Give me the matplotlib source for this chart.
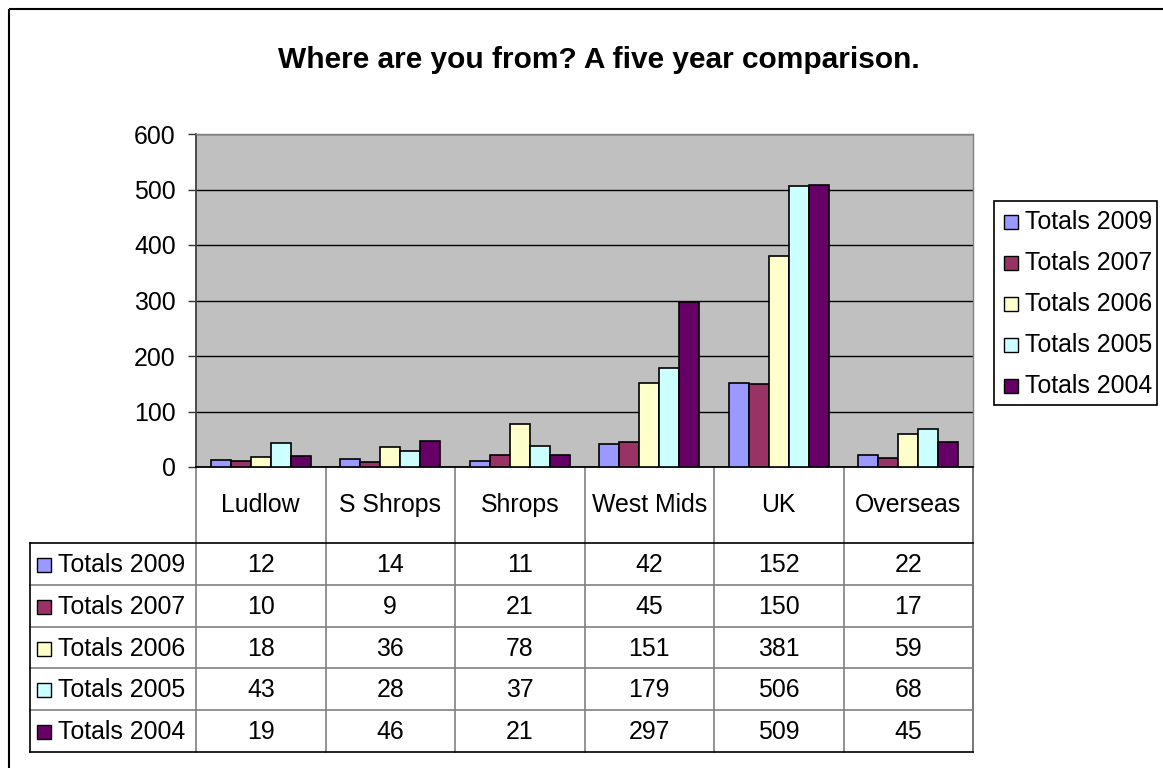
import matplotlib
matplotlib.use("Agg")
import matplotlib.pyplot as plt
from matplotlib.patches import Rectangle
import numpy as np

plt.rcParams['font.family'] = ['Liberation Sans', 'DejaVu Sans']

categories = ["Ludlow", "S Shrops", "Shrops", "West Mids", "UK", "Overseas"]
series_names = ["Totals 2009", "Totals 2007", "Totals 2006", "Totals 2005", "Totals 2004"]
totals_2009 = [12, 14, 11, 42, 152, 22]
totals_2007 = [10, 9, 21, 45, 150, 17]
totals_2006 = [18, 36, 78, 151, 381, 59]
totals_2005 = [43, 28, 37, 179, 506, 68]
totals_2004 = [19, 46, 21, 297, 509, 45]
series_values = [totals_2009, totals_2007, totals_2006, totals_2005, totals_2004]
colors = ["#9999FF", "#993366", "#FFFFCC", "#CCFFFF", "#660066"]
y_ticks = [0, 100, 200, 300, 400, 500, 600]
title = "Where are you from? A five year comparison."

FS = 17.9

W, H = 1163, 768
fig = plt.figure(figsize=(W / 100, H / 100), dpi=100)

# overlay axes in pixel coordinates
ov = fig.add_axes([0, 0, 1, 1], zorder=0)
ov.set_xlim(0, W)
ov.set_ylim(H, 0)
ov.axis("off")
ov.patch.set_alpha(0)

# layout (pixels)
L, R, T, B = 196, 973, 134, 467
ax = fig.add_axes([L / W, 1 - B / H, (R - L) / W, (B - T) / H], zorder=2)

n_cat = len(categories)
n_ser = len(series_values)
gap = 1.5
bw = 1.0 / (n_ser + gap)
x = np.arange(n_cat)
for i, (vals, c) in enumerate(zip(series_values, colors)):
    offs = (i - (n_ser - 1) / 2) * bw
    ax.bar(x + offs, vals, width=bw, color=c, edgecolor="black", linewidth=1.2, zorder=3)

ax.set_xlim(-0.5, n_cat - 0.5)
ax.set_ylim(0, 600)
ax.set_facecolor("#C0C0C0")
ax.set_yticks(y_ticks)
ax.set_yticklabels([str(t) for t in y_ticks], fontsize=FS)
ax.set_xticks([])
ax.yaxis.grid(True, color="black", linewidth=1.0, zorder=1)
ax.set_axisbelow(True)
ax.tick_params(axis="y", direction="out", length=6, width=1, pad=8.5, color="#333333")
for s in ["top", "right"]:
    ax.spines[s].set_color("#808080")
    ax.spines[s].set_linewidth(1)
ax.spines["left"].set_color("#404040")
ax.spines["left"].set_linewidth(1.3)
ax.spines["bottom"].set_color("black")
ax.spines["bottom"].set_linewidth(1.3)

# outer chart border
ov.add_patch(Rectangle((9, 9), W + 20, H + 20, fill=False, edgecolor="black", linewidth=1.5))

# title
ov.text(599, 60, title, ha="center", va="center", fontsize=21.5, fontweight="bold")

# data table
col_w = (R - L) / n_cat
table_left = 30
header_bottom = 543
row_h = (752 - 543) / n_ser
table_bottom = header_bottom + row_h * n_ser
grey = "#808080"

# vertical separators
for k in range(n_cat + 1):
    xx = L + k * col_w
    ov.plot([xx, xx], [B, table_bottom], color=grey if k < n_cat else "#606060", lw=1.2)
# horizontal lines
for r in range(n_ser + 1):
    yy = header_bottom + r * row_h
    ov.plot([table_left, R], [yy, yy], color="black" if r in (0, n_ser) else grey, lw=1.2)
ov.plot([table_left, table_left], [header_bottom, table_bottom], color="black", lw=1.2)

# header labels
for k, cat in enumerate(categories):
    ov.text(L + (k + 0.5) * col_w, (B + header_bottom) / 2, cat, ha="center", va="center", fontsize=FS)

# rows
for r, (name, vals, c) in enumerate(zip(series_names, series_values, colors)):
    yc = header_bottom + (r + 0.5) * row_h
    ov.add_patch(Rectangle((37, yc - 6), 14, 14, facecolor=c, edgecolor="black", lw=1))
    ov.text(58, yc + 1, name, ha="left", va="center", fontsize=FS)
    for k, v in enumerate(vals):
        ov.text(L + (k + 0.5) * col_w, yc + 1, str(v), ha="center", va="center", fontsize=FS)

# legend
lg_l, lg_t, lg_r, lg_b = 994, 201, 1157, 405
ov.add_patch(Rectangle((lg_l, lg_t), lg_r - lg_l, lg_b - lg_t, fill=False, edgecolor="black", lw=1.2))
lg_step = (lg_b - lg_t) / n_ser
for r, (name, c) in enumerate(zip(series_names, colors)):
    yc = lg_t + (r + 0.5) * lg_step
    ov.add_patch(Rectangle((1004, yc - 6), 14, 14, facecolor=c, edgecolor="black", lw=1))
    ov.text(1025, yc + 1, name, ha="left", va="center", fontsize=FS)

fig.savefig("out.png", dpi=100)
